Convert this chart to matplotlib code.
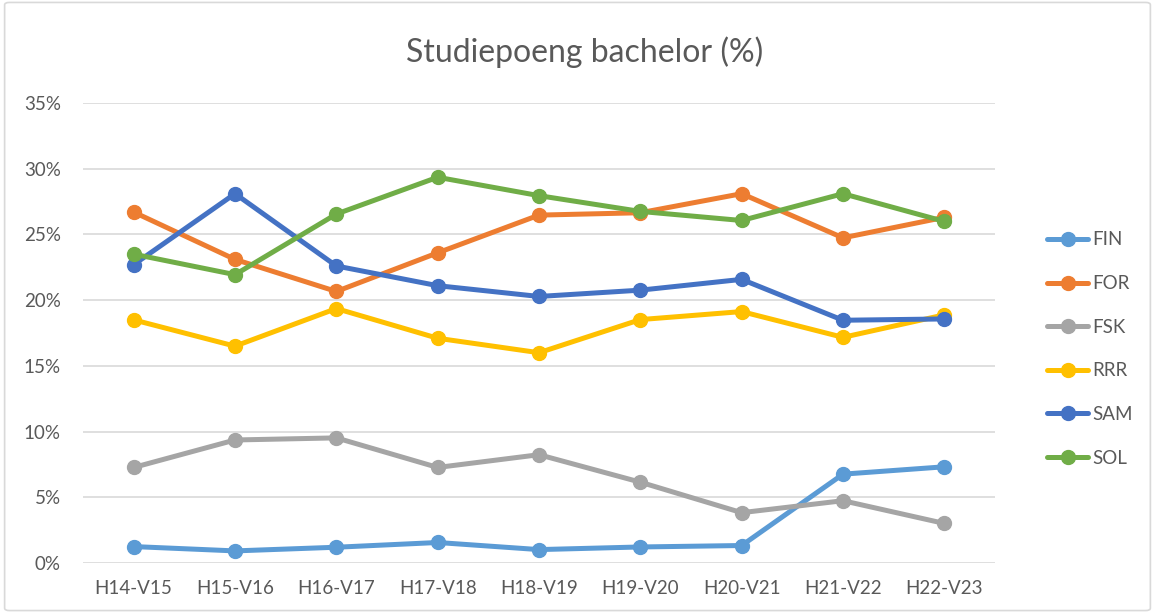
import matplotlib.pyplot as plt
from matplotlib import ticker
from matplotlib.patches import FancyBboxPatch

# data
years = ["H14-V15", "H15-V16", "H16-V17", "H17-V18", "H18-V19",
         "H19-V20", "H20-V21", "H21-V22", "H22-V23"]
fin = [1.25, 0.92, 1.20, 1.56, 1.02, 1.22, 1.33, 6.76, 7.32]
for_ = [26.7, 23.1, 20.66, 23.6, 26.47, 26.65, 28.1, 24.74, 26.3]
fsk = [7.27, 9.36, 9.52, 7.27, 8.24, 6.15, 3.83, 4.74, 3.01]
rrr = [18.5, 16.5, 19.36, 17.1, 16.0, 18.52, 19.13, 17.17, 18.88]
sam = [22.7, 28.1, 22.6, 21.1, 20.28, 20.76, 21.58, 18.47, 18.57]
sol = [23.5, 21.94, 26.55, 29.35, 27.95, 26.75, 26.06, 28.1, 25.99]

series = [("FIN", fin, "#5B9BD5"), ("FOR", for_, "#ED7D31"),
          ("FSK", fsk, "#A5A5A5"), ("RRR", rrr, "#FFC000"),
          ("SAM", sam, "#4472C4"), ("SOL", sol, "#70AD47")]

plt.rcParams['font.family'] = ['Lato', 'DejaVu Sans']
text_col = "#595959"

fig = plt.figure(figsize=(11.55, 6.13), dpi=100)
ax = fig.add_axes([83/1155, 1 - 563/613, (995 - 83)/1155, (563 - 103)/613])

# chart border
fig.patches.append(FancyBboxPatch((0.004, 0.004), 0.992, 0.992,
                                  boxstyle="round,pad=0,rounding_size=0.004",
                                  transform=fig.transFigure, fill=False,
                                  edgecolor="#D9D9D9", linewidth=1.2))

x = list(range(len(years)))
for name, vals, col in series:
    ax.plot(x, [v / 100 for v in vals], '-o', color=col, lw=3.6, ms=10,
            label=name, solid_capstyle='round', clip_on=False)

ax.set_xlim(-0.5, len(years) - 0.5)
ax.set_ylim(0, 0.35)
ax.yaxis.set_major_locator(ticker.MultipleLocator(0.05))
ax.yaxis.set_major_formatter(ticker.FuncFormatter(lambda v, p: f"{v*100:.0f}%"))
ax.set_xticks(x)
ax.set_xticklabels(years)
ax.grid(axis='y', color="#D9D9D9", lw=1.2)
ax.set_axisbelow(True)
for s in ax.spines.values():
    s.set_visible(False)
ax.tick_params(length=0, labelsize=13.5, colors=text_col, pad=12)
ax.tick_params(axis='y', pad=16)

fig.text(585/1155, 1 - 52/613, "Studiepoeng bachelor (%)", ha='center', va='center',
         fontsize=23, color=text_col)

fig.legend(loc='center left', bbox_to_anchor=(1030/1155, 1 - 349/613), frameon=False,
           fontsize=13.5, labelspacing=1.42, handlelength=2.2, handletextpad=0.2,
           labelcolor=text_col)

fig.savefig("out.png", dpi=100)
